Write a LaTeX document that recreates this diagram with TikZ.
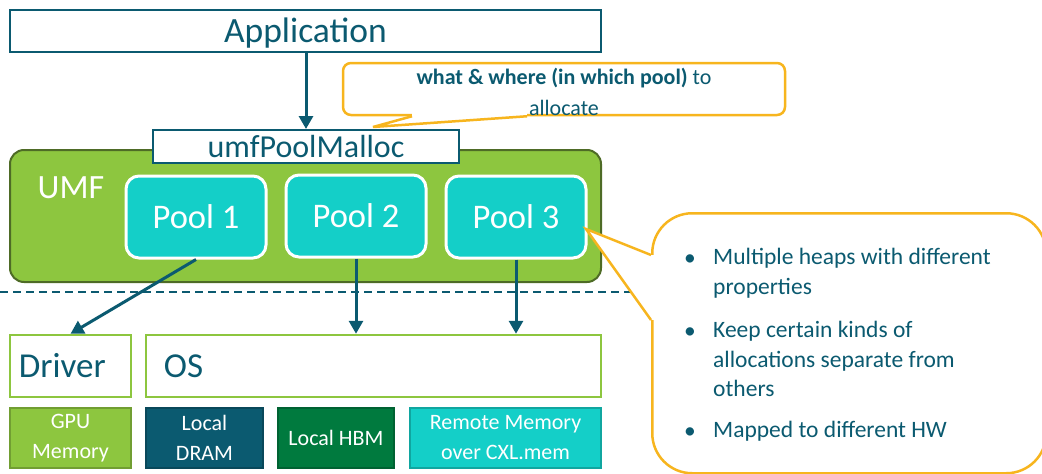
\documentclass[tikz,border=0pt]{standalone}
\usepackage{fontspec}
\setmainfont{Carlito}
\usetikzlibrary{arrows.meta}
\definecolor{umfteal}{HTML}{0B5A70}
\definecolor{umfgreen}{HTML}{8DC63F}
\definecolor{umfolive}{HTML}{4E6B26}
\definecolor{poolcyan}{HTML}{14CFC8}
\definecolor{hbmgreen}{HTML}{007A3E}
\definecolor{noteorange}{HTML}{F7B51E}
\newcommand{\fsz}[2]{\fontsize{#1}{#2}\selectfont}
\tikzset{
  frame/.style={draw=umfteal, line width=2.5pt, fill=white, inner sep=0pt, text=umfteal},
  layer/.style={draw=umfgreen, line width=2.5pt, fill=white, inner sep=0pt, minimum height=62pt},
  layertext/.style={anchor=west, inner sep=0pt, text=umfteal, font=\fsz{35}{40}},
  pool/.style={fill=poolcyan, draw=white, line width=3pt, rounded corners=13pt,
    minimum width=140pt, minimum height=82pt, inner sep=0pt, text=white, font=\fsz{34.5}{38}},
  mem/.style={minimum height=60pt, inner sep=0pt, text=white, align=center,
    font=\fsz{22}{30}, line width=1.5pt},
  flow/.style={draw=umfteal, line width=3pt, -{Triangle[length=13pt,width=14pt]}},
  note/.style={draw=noteorange, line width=2.5pt, fill=white},
  pointer/.style={draw=noteorange, line width=2.5pt, line join=miter},
  bullettext/.style={anchor=north west, inner sep=0pt, align=left, text=umfteal, font=\fsz{23.5}{29.5}},
  dot/.style={anchor=base west, inner sep=0pt, text=umfteal, font=\fsz{23.5}{29.5}},
}
\begin{document}
\begin{tikzpicture}[x=1pt, y=-1pt]
\useasboundingbox (0,0) rectangle (1042,474);
\clip (0,0) rectangle (1042,474);

% application layer and allocation entry point
\node[frame, minimum width=591pt, minimum height=42pt] (app) at (305.5,31) {};
\node[inner sep=0pt, text=umfteal, font=\fsz{35.5}{40}] (apptext) at (305.5,33) {Application};

% UMF container
\node[fill=umfgreen, draw=umfolive, line width=2pt, rounded corners=14pt,
      minimum width=591pt, minimum height=132pt, inner sep=0pt] (umf) at (305.5,216) {};
\node[text=white, inner sep=0pt, font=\fsz{34}{38}] (umflabel) at (71,188) {UMF};

\node[frame, line width=2pt, minimum width=306pt, minimum height=33pt, font=\fsz{32}{34}] (malloc) at (306,146.5) {umfPoolMalloc};
\draw[flow] (app.south -| malloc.north) -- (malloc.north);

% pools
\node[pool] (pool1) at (196,217) {Pool 1};
\node[pool] (pool2) at (356,216) {Pool 2};
\node[pool] (pool3) at (516,217) {Pool 3};

% boundary between user space and providers
\coordinate (dashL) at (0,292);
\coordinate (dashR) at (652,292);
\draw[umfteal, line width=1.5pt, dash pattern=on 8pt off 5pt] (dashL) -- (dashR);

% providers
\node[layer, minimum width=121pt] (driver) at (70.5,366) {};
\node[layertext] (drivertext) at ([xshift=10pt]driver.west) {Driver};
\node[layer, minimum width=455pt] (os) at (373.5,366) {};
\node[layertext] (ostext) at ([xshift=19pt]os.west) {OS};

\draw[flow] (pool1.south) -- (driver.north);
\draw[flow] (pool2.south) -- (pool2.south |- os.north);
\draw[flow] (pool3.south) -- (pool3.south |- os.north);

% memory kinds
\node[mem, fill=umfgreen, draw=umfgreen!80!black, minimum width=121pt] (gpu) at (70.5,438) {GPU\\Memory};
\node[mem, fill=umfteal, draw=umfteal!80!black, minimum width=117pt] (dram) at (204.5,438) {Local\\DRAM};
\node[mem, fill=hbmgreen, draw=hbmgreen!80!black, minimum width=116pt] (hbm) at (336,438) {Local HBM};
\node[mem, fill=poolcyan, draw=poolcyan!80!black, minimum width=191pt] (cxl) at (505.5,438) {Remote Memory\\over CXL.mem};

% callout on the allocation call
\node[note, rounded corners=8pt, minimum width=442pt, minimum height=52pt, inner sep=0pt] (note1) at (564,89) {};
\node[align=center, inner sep=0pt, text=umfteal, font=\fsz{22}{31}] (note1text) at (564,92) {\textbf{what \& where (in which pool)} to\\allocate};
\coordinate (tip1) at (373,127);
\coordinate (n1a) at ([xshift=-152pt]note1.south);
\coordinate (n1b) at ([xshift=-37pt]note1.south);
\fill[white] ([yshift=-3pt]n1a) rectangle ([yshift=3pt]n1b);
\fill[white] (n1a) -- (tip1) -- (n1b) -- cycle;
\draw[pointer] (n1a) -- (tip1) -- (n1b);

% callout on the pools
\node[note, rounded corners=40pt, minimum width=394pt, minimum height=260pt, inner sep=0pt, anchor=north west] (note2) at (651,212) {};
\coordinate (tip2) at (586,229);
\coordinate (n2a) at (651,255);
\coordinate (n2b) at (651,320);
\fill[white] ([xshift=-3pt]n2a) rectangle ([xshift=3pt]n2b);
\fill[white] (n2a) -- (tip2) -- (n2b) -- cycle;
\draw[pointer] (n2a) -- (tip2) -- (n2b);

\node[bullettext] (b1) at (713,248) {Multiple heaps with different\\properties};
\node[bullettext] (b2) at (713,321) {Keep certain kinds of\\allocations separate from\\others};
\node[bullettext] (b3) at (713,421) {Mapped to different HW};
\node[dot] (d1) at (684,265) {•};
\node[dot] (d2) at (684,338) {•};
\node[dot] (d3) at (684,438) {•};
\end{tikzpicture}
\end{document}
